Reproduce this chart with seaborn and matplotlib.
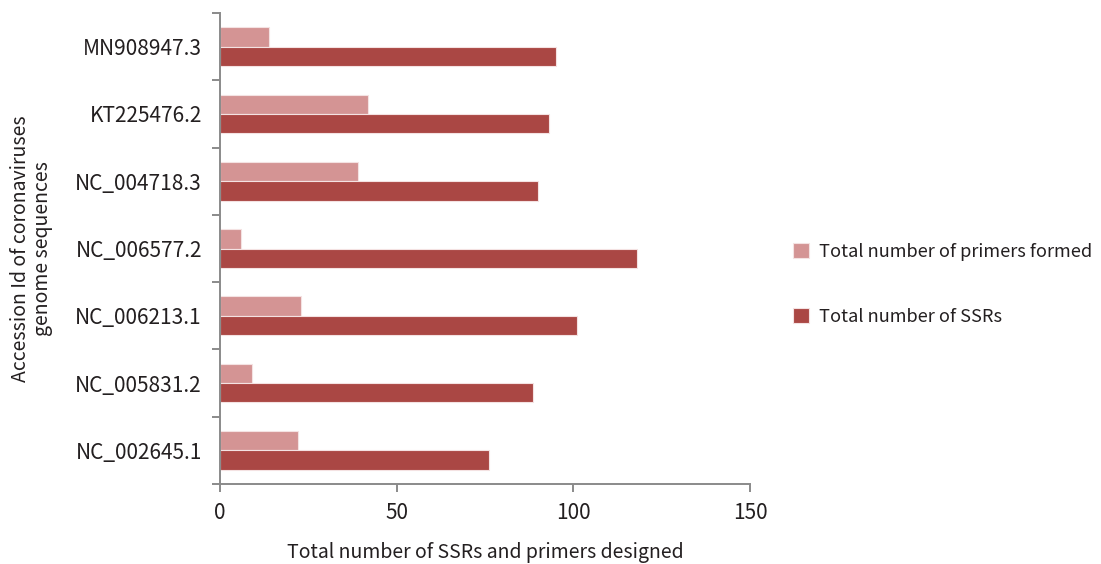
import matplotlib
matplotlib.use("Agg")
import matplotlib.pyplot as plt
import seaborn as sns
import pandas as pd
import numpy as np

accessions = ["MN908947.3", "KT225476.2", "NC_004718.3", "NC_006577.2",
              "NC_006213.1", "NC_005831.2", "NC_002645.1"]
primers_formed = [14, 42, 39, 6, 23, 9, 22]
total_ssrs = [95, 93, 90, 118, 101, 88.5, 76]
series_names = ["Total number of primers formed", "Total number of SSRs"]
series_colors = ["#D49494", "#AA4744"]
x_ticks = [0, 50, 100, 150]

df = pd.DataFrame({
    "accession": accessions * 2,
    "value": primers_formed + total_ssrs,
    "series": [series_names[0]] * len(accessions) + [series_names[1]] * len(accessions),
})

sns.set_style("white")
plt.rcParams["font.family"] = ["Noto Sans CJK KR", "DejaVu Sans"]
text_color = "#231F20"
spine_color = "#8A8A8A"
fs = 14

fig = plt.figure(figsize=(11.01, 5.64), dpi=100)
ax = fig.add_axes([220 / 1101, 1 - 484 / 564, (750 - 220) / 1101, (484 - 13) / 564])

sns.barplot(data=df, y="accession", x="value", hue="series", order=accessions,
            hue_order=series_names, palette=series_colors, orient="h",
            width=0.575, edgecolor="#F4E2E2", linewidth=0.8, saturation=1,
            errorbar=None, ax=ax)

ax.set_xlim(0, 150)
ax.set_ylim(len(accessions) - 0.5, -0.5)
ax.set_xticks(x_ticks)
ax.set_xticklabels([str(t) for t in x_ticks], fontsize=15, color=text_color)

# category boundaries carry the ticks; labels sit at the category centres
ax.set_yticks(np.arange(-0.5, len(accessions), 1.0))
ax.set_yticklabels([])
ax.set_yticks(np.arange(len(accessions)), minor=True)
ax.set_yticklabels(accessions, minor=True, fontsize=15, color=text_color)
ax.tick_params(axis="y", which="major", length=6, width=1.4, color=spine_color, direction="out", left=True)
ax.tick_params(axis="y", which="minor", length=0, pad=13)
ax.tick_params(axis="x", which="major", length=6, width=1.4, color=spine_color, direction="out", bottom=True, pad=7)

for side in ["top", "right"]:
    ax.spines[side].set_visible(False)
for side in ["left", "bottom"]:
    ax.spines[side].set_color(spine_color)
    ax.spines[side].set_linewidth(1.4)

ax.set_xlabel("Total number of SSRs and primers designed", fontsize=fs, color=text_color, labelpad=13)
ax.set_ylabel("Accession Id of coronaviruses\ngenome sequences", fontsize=fs, color=text_color,
              labelpad=16, linespacing=1.05)

handles, labels = ax.get_legend_handles_labels()
if ax.legend_:
    ax.legend_.remove()
fig.legend(handles, labels, loc="center left", bbox_to_anchor=(793 / 1101, 1 - 284.5 / 564),
           bbox_transform=fig.transFigure, frameon=False, fontsize=13.1, labelcolor=text_color,
           handlelength=0.9, handleheight=0.9, handletextpad=0.55, labelspacing=2.6,
           borderpad=0, borderaxespad=0)

fig.savefig("out.png", dpi=100)
